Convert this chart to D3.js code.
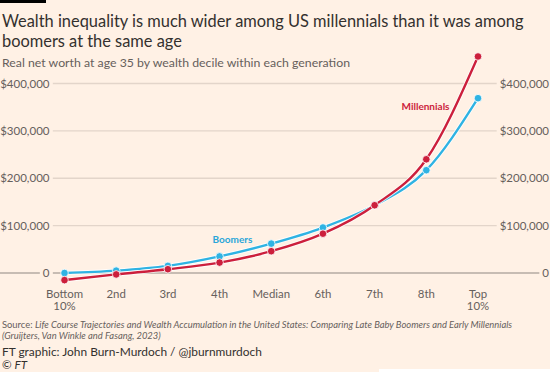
<!DOCTYPE html>
<html>
<head>
<meta charset="utf-8">
<script src="https://cdn.jsdelivr.net/npm/d3@7.9.0/dist/d3.min.js"></script>
<style>
  body { margin: 0; background: #fff; }
  svg { display: block; font-family: Lato, "Noto Sans", sans-serif; }
</style>
</head>
<body>
<svg id="chart" width="550" height="378"></svg>
<script>
const deciles = ['Bottom\n10%', '2nd', '3rd', '4th', 'Median', '6th', '7th', '8th', 'Top\n10%'];
const boomers = [0, 5000, 15000, 35000, 62000, 96000, 143000, 217000, 369000];
const millennials = [-15000, -3000, 8000, 22000, 46000, 83000, 143000, 240000, 457000];
const yTicks = [0, 100000, 200000, 300000, 400000];

const bg = '#fff1e5';
const blue = '#2fb3e3';
const red = '#cc1f3c';

const svg = d3.select('#chart');

// page background (slightly ragged at the bottom like the original)
svg.append('rect').attr('width', 550).attr('height', 369).attr('fill', bg);
svg.append('rect').attr('y', 369).attr('width', 379).attr('height', 3).attr('fill', bg);
svg.append('rect').attr('width', 46).attr('height', 3).attr('fill', '#000');

// titles
svg.append('text').attr('x', 2).attr('y', 26.5)
    .attr('font-size', 16.4).attr('fill', '#33302e')
    .text('Wealth inequality is much wider among US millennials than it was among');
svg.append('text').attr('x', 2).attr('y', 46.5)
    .attr('font-size', 16.4).attr('fill', '#33302e')
    .text('boomers at the same age');
svg.append('text').attr('x', 2).attr('y', 66.5)
    .attr('font-size', 12.3).attr('fill', '#66605c')
    .text('Real net worth at age 35 by wealth decile within each generation');

const x = d3.scalePoint().domain(deciles).range([64.5, 478]);
const y = d3.scaleLinear().domain([0, 400000]).range([273, 83.5]);

const fmt = v => v === 0 ? '0' : '$' + d3.format(',')(v);

// gridlines
const grid = svg.append('g');
yTicks.forEach(t => {
    grid.append('line')
        .attr('x1', 0).attr('x2', 550)
        .attr('y1', y(t)).attr('y2', y(t))
        .attr('stroke', t === 0 ? '#8f8882' : '#e3d5ca')
        .attr('stroke-width', t === 0 ? 1.2 : 1.3);
});

// y labels both sides, with background boxes cutting the lines
[{ x: 49.5 }, { x: 549 }].forEach(s => {
    yTicks.forEach(t => {
        const g = svg.append('g');
        const txt = g.append('text')
            .attr('x', s.x).attr('y', y(t) + 4.2)
            .attr('text-anchor', 'end')
            .attr('font-size', 11.5).attr('fill', '#66605c')
            .text(fmt(t));
        const bb = txt.node().getBBox();
        g.insert('rect', 'text')
            .attr('x', bb.x - 3).attr('y', y(t) - 3)
            .attr('width', bb.width + 6).attr('height', 6)
            .attr('fill', bg);
    });
});

// x labels
deciles.forEach(d => {
    const t = svg.append('text')
        .attr('x', x(d)).attr('y', 297.5)
        .attr('text-anchor', 'middle')
        .attr('font-size', 11.4).attr('fill', '#66605c');
    d.split('\n').forEach((part, i) => {
        t.append('tspan').attr('x', x(d)).attr('dy', i === 0 ? 0 : 12.8).text(part);
    });
});

const line = d3.line()
    .x((v, i) => x(deciles[i]))
    .y(v => y(v))
    .curve(d3.curveMonotoneX);

[{ data: boomers, color: blue }, { data: millennials, color: red }].forEach(s => {
    svg.append('path').attr('d', line(s.data))
        .attr('fill', 'none').attr('stroke', '#fff').attr('stroke-width', 4.2).attr('opacity', 0.8);
    svg.append('path').attr('d', line(s.data))
        .attr('fill', 'none').attr('stroke', s.color).attr('stroke-width', 2.4);
    svg.append('g').selectAll('circle').data(s.data).join('circle')
        .attr('cx', (v, i) => x(deciles[i]))
        .attr('cy', v => y(v))
        .attr('r', 3.8)
        .attr('fill', s.color)
        .attr('stroke', '#fff').attr('stroke-width', 0.8);
});

// series labels
svg.append('text').attr('x', 401.5).attr('y', 109.5)
    .attr('font-size', 10).attr('font-weight', 'bold').attr('fill', red)
    .text('Millennials');
svg.append('text').attr('x', 212.5).attr('y', 242.5)
    .attr('font-size', 10).attr('font-weight', 'bold').attr('fill', '#2aa6d9')
    .text('Boomers');

// source
const src = svg.append('text').attr('x', 2).attr('y', 327.5)
    .attr('font-size', 9.4).attr('fill', '#66605c');
src.append('tspan').text('Source: ');
src.append('tspan').attr('font-style', 'italic')
    .text('Life Course Trajectories and Wealth Accumulation in the United States: Comparing Late Baby Boomers and Early Millennials');
svg.append('text').attr('x', 2).attr('y', 339)
    .attr('font-size', 9.4).attr('fill', '#66605c').attr('font-style', 'italic')
    .text('(Gruijters, Van Winkle and Fasang, 2023)');

svg.append('text').attr('x', 2).attr('y', 355.5)
    .attr('font-size', 11.9).attr('fill', '#33302e')
    .text('FT graphic: John Burn-Murdoch / @jburnmurdoch');
const c = svg.append('text').attr('x', 2).attr('y', 369)
    .attr('font-size', 11.6).attr('fill', '#33302e');
c.append('tspan').text('© ');
c.append('tspan').attr('font-style', 'italic').text('FT');
</script>
</body>
</html>
